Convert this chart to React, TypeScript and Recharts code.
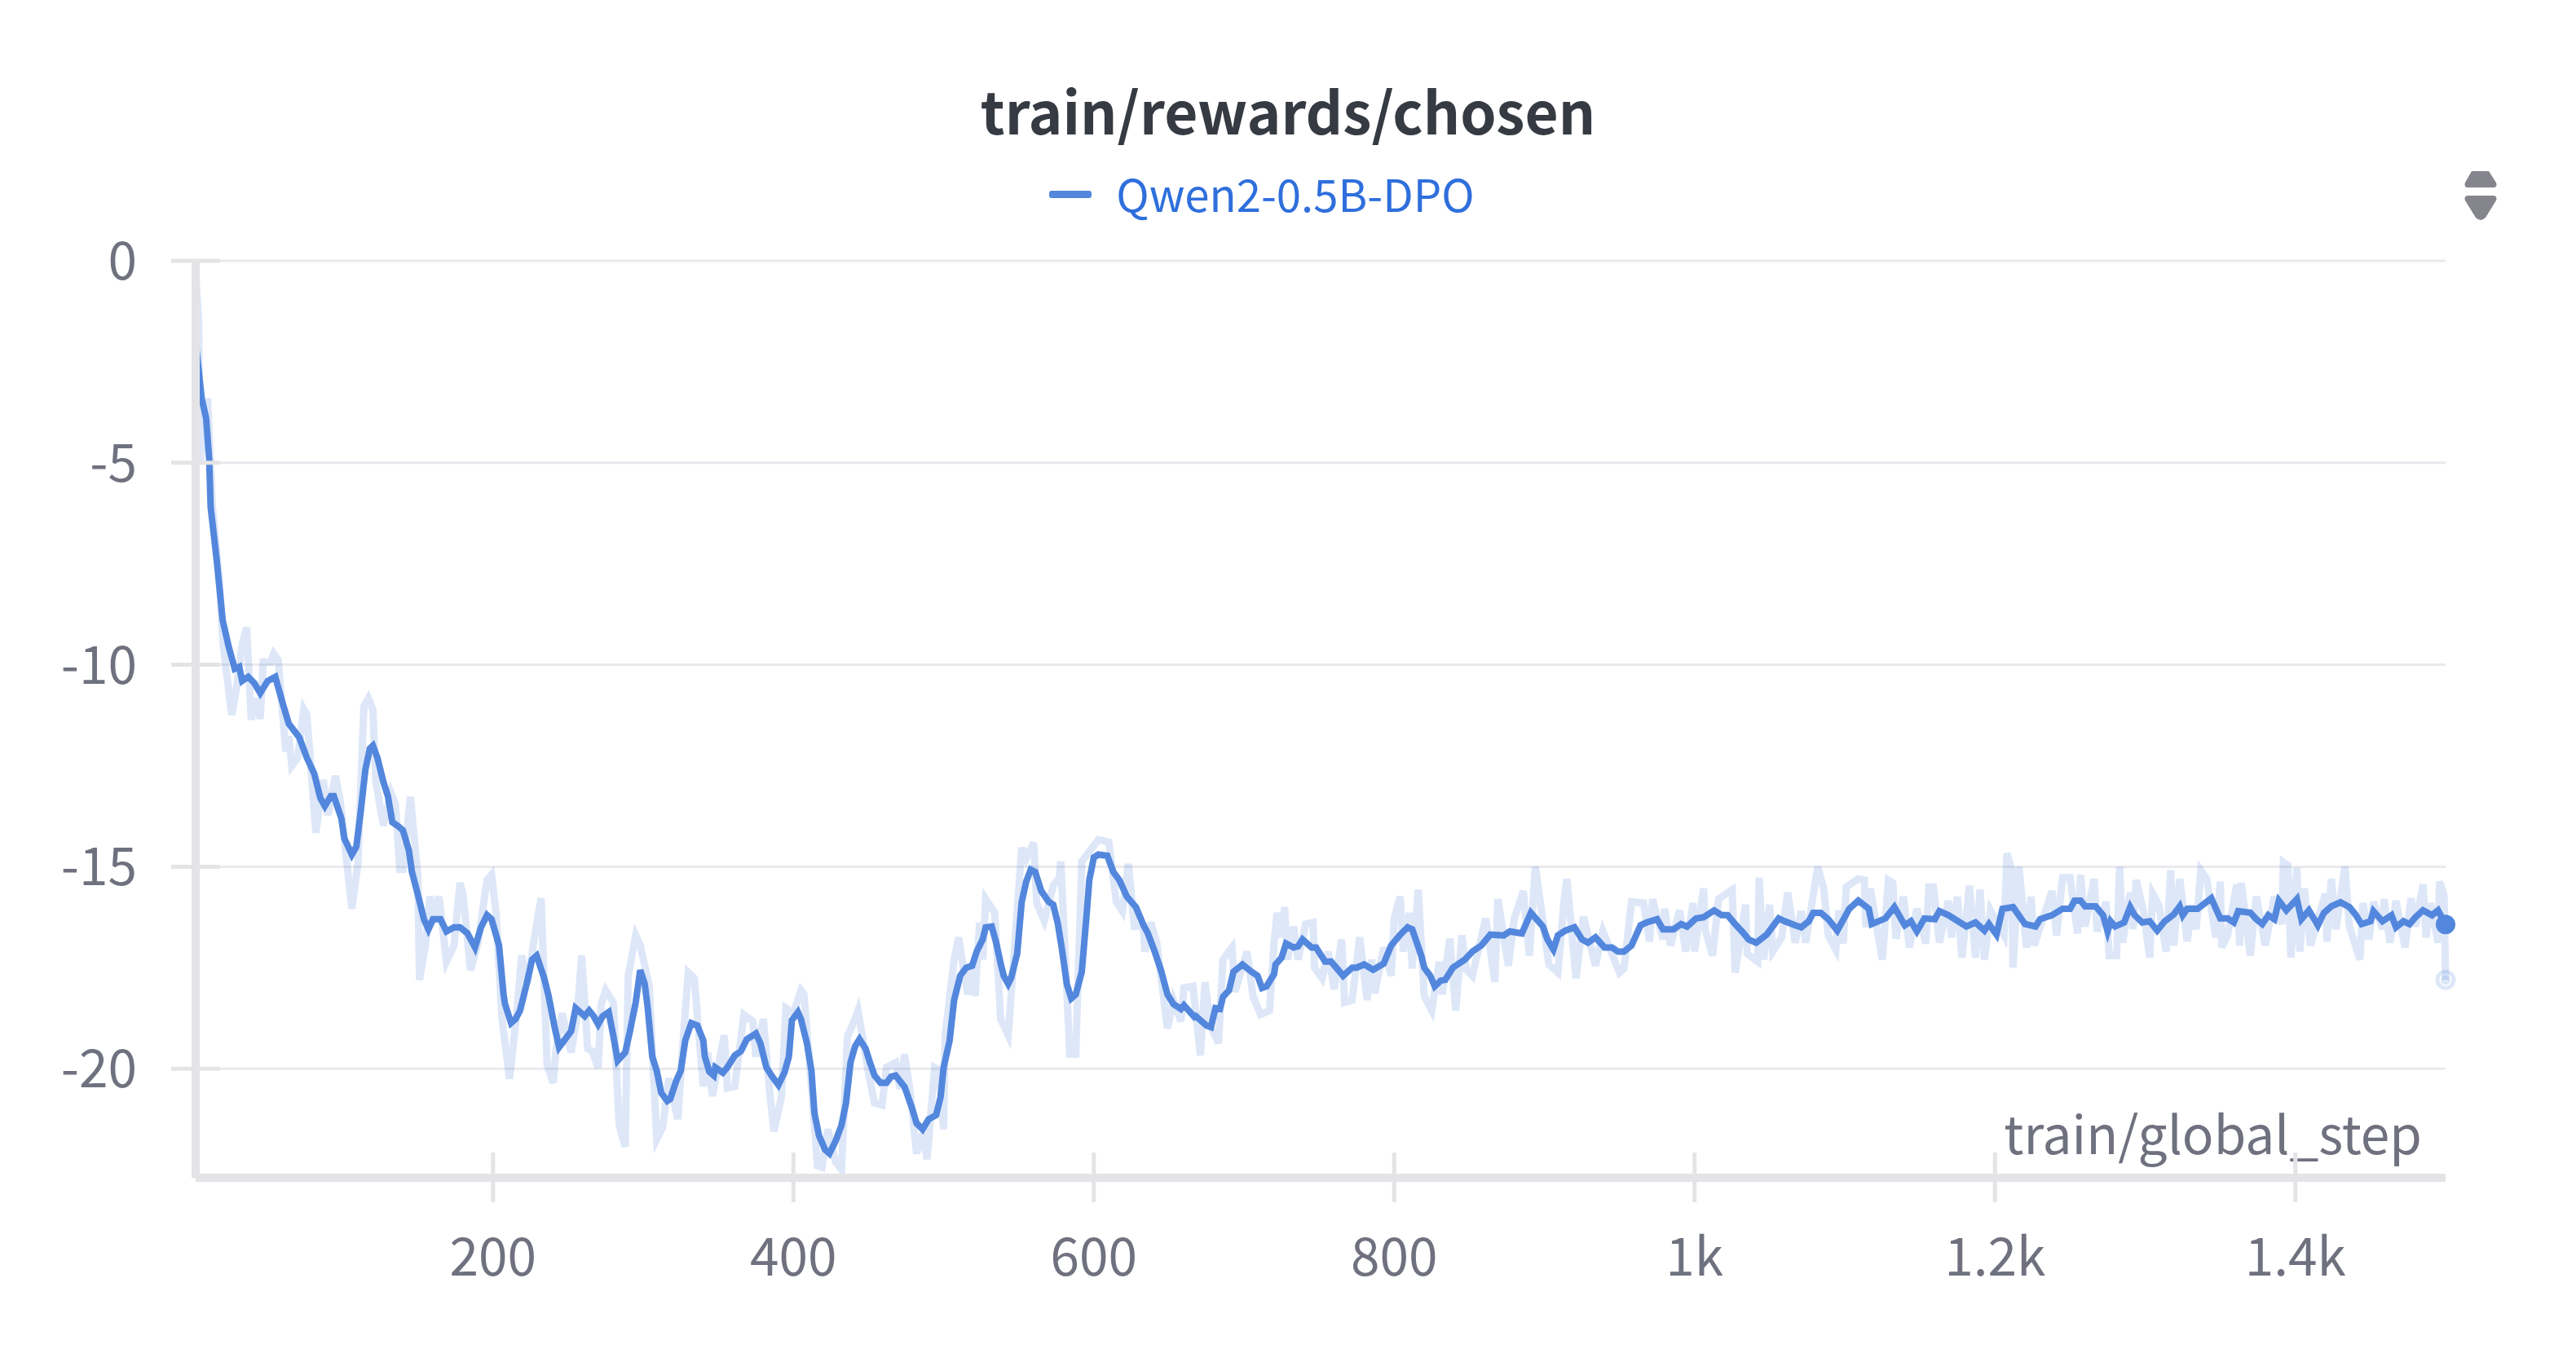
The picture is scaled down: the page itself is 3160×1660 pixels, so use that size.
import React from 'react';
import { LineChart, Line, XAxis, YAxis, CartesianGrid, Legend } from 'recharts';

const TITLE = 'train/rewards/chosen';
const RUN_NAME = 'Qwen2-0.5B-DPO';
const X_NAME = 'train/global_step';

const xTicks = [200, 400, 600, 800, 1000, 1200, 1400];
const xTickLabels = ['200', '400', '600', '800', '1k', '1.2k', '1.4k'];
const yTicks = [0, -5, -10, -15, -20];

const smoothSteps = [
  2, 6, 9, 11, 12, 16, 20, 24, 28, 31, 33, 37, 41, 45, 50, 55, 60, 64, 71, 76, 81, 85, 88, 92, 94, 99, 101, 106, 109, 112,
  115, 118, 120, 123, 127, 130, 133, 137, 140, 144, 146, 150, 154, 157, 160, 165, 169, 174, 178, 183, 188, 192, 196, 199,
  204, 207, 208, 212, 215, 218, 222, 226, 229, 234, 237, 241, 244, 248, 252, 255, 261, 264, 267, 270, 273, 277, 280, 283,
  288, 291, 295, 298, 301, 303, 306, 309, 312, 316, 318, 322, 325, 328, 332, 336, 340, 341, 344, 347, 348, 353, 356, 361,
  365, 369, 375, 378, 382, 386, 390, 394, 397, 399, 403, 405, 409, 412, 414, 417, 421, 424, 428, 432, 435, 438, 441, 444,
  448, 451, 454, 458, 462, 465, 468, 474, 479, 482, 486, 490, 495, 498, 500, 504, 507, 511, 515, 519, 522, 526, 528, 532,
  535, 538, 540, 543, 545, 549, 552, 555, 558, 561, 565, 570, 573, 576, 579, 582, 585, 588, 592, 595, 597, 600, 603, 609,
  613, 617, 622, 628, 633, 636, 641, 645, 649, 653, 658, 660, 667, 668, 675, 678, 681, 684, 686, 690, 693, 699, 705, 709,
  712, 715, 720, 721, 725, 728, 733, 736, 739, 745, 748, 754, 758, 766, 772, 775, 780, 786, 793, 798, 804, 809, 812, 818,
  820, 824, 827, 831, 834, 839, 847, 852, 858, 864, 873, 877, 885, 891, 899, 902, 906, 909, 914, 920, 925, 929, 934, 940,
  945, 949, 953, 958, 964, 968, 975, 979, 986, 991, 995, 1001, 1006, 1013, 1018, 1022, 1027, 1032, 1036, 1041, 1048, 1056,
  1060, 1067, 1071, 1076, 1079, 1084, 1089, 1095, 1103, 1109, 1116, 1118, 1127, 1133, 1140, 1144, 1148, 1153, 1160, 1163,
  1169, 1181, 1187, 1193, 1196, 1201, 1205, 1212, 1220, 1227, 1230, 1238, 1245, 1250, 1253, 1257, 1260, 1267, 1272, 1275,
  1277, 1280, 1286, 1290, 1293, 1298, 1303, 1308, 1313, 1319, 1323, 1325, 1328, 1335, 1344, 1350, 1355, 1359, 1362, 1370,
  1374, 1378, 1382, 1386, 1389, 1394, 1401, 1404, 1409, 1415, 1419, 1424, 1430, 1436, 1440, 1444, 1450, 1452, 1458, 1464,
  1467, 1472, 1476, 1480, 1485, 1491, 1495, 1500,
];
const smoothValues = [
  -2.0, -3.4, -3.9, -4.9, -6.1, -7.4, -8.9, -9.55, -10.1, -10.05, -10.4, -10.3, -10.45, -10.7, -10.4, -10.3, -10.96, -11.46,
  -11.8, -12.3, -12.7, -13.3, -13.5, -13.25, -13.25, -13.8, -14.3, -14.7, -14.5, -13.6, -12.6, -12.07, -12.0, -12.3, -12.9,
  -13.25, -13.9, -14.0, -14.1, -14.6, -15.13, -15.7, -16.3, -16.55, -16.3, -16.3, -16.6, -16.5, -16.5, -16.65, -17.0, -16.5,
  -16.2, -16.3, -16.95, -18.16, -18.4, -18.87, -18.77, -18.56, -17.96, -17.3, -17.2, -17.75, -18.2, -18.97, -19.47, -19.27,
  -19.07, -18.5, -18.7, -18.56, -18.7, -18.9, -18.7, -18.6, -19.17, -19.8, -19.6, -19.1, -18.36, -17.56, -17.9, -18.5, -19.7,
  -20.05, -20.6, -20.8, -20.75, -20.3, -20.05, -19.3, -18.87, -18.93, -19.3, -19.7, -20.07, -20.17, -19.97, -20.1, -19.97,
  -19.67, -19.57, -19.27, -19.13, -19.37, -19.97, -20.2, -20.4, -20.1, -19.7, -18.8, -18.6, -18.77, -19.37, -20.05, -21.1,
  -21.65, -22.0, -22.1, -21.8, -21.4, -20.85, -19.85, -19.45, -19.27, -19.5, -19.85, -20.17, -20.35, -20.35, -20.2, -20.17,
  -20.45, -20.98, -21.35, -21.5, -21.25, -21.15, -20.7, -19.97, -19.3, -18.3, -17.7, -17.5, -17.45, -17.1, -16.8, -16.5,
  -16.48, -16.88, -17.4, -17.7, -17.9, -17.75, -17.15, -15.87, -15.37, -15.07, -15.13, -15.6, -15.87, -15.94, -16.4, -17.1,
  -17.9, -18.26, -18.16, -17.6, -16.28, -15.33, -14.77, -14.7, -14.73, -15.13, -15.33, -15.74, -16.0, -16.44, -16.65, -17.15,
  -17.6, -18.16, -18.4, -18.52, -18.43, -18.72, -18.7, -18.93, -18.97, -18.5, -18.52, -18.22, -18.06, -17.6, -17.42, -17.6,
  -17.7, -18.0, -17.96, -17.66, -17.42, -17.25, -16.9, -17.0, -16.97, -16.8, -17.0, -17.0, -17.35, -17.35, -17.7, -17.5,
  -17.5, -17.42, -17.55, -17.4, -16.95, -16.68, -16.5, -16.55, -17.2, -17.5, -17.7, -17.96, -17.82, -17.8, -17.5, -17.3,
  -17.1, -16.95, -16.68, -16.7, -16.6, -16.65, -16.14, -16.48, -16.8, -17.05, -16.7, -16.58, -16.5, -16.8, -16.88, -16.75,
  -17.0, -17.0, -17.1, -17.1, -16.95, -16.45, -16.38, -16.3, -16.55, -16.55, -16.42, -16.48, -16.28, -16.25, -16.08, -16.2,
  -16.2, -16.42, -16.62, -16.8, -16.88, -16.68, -16.28, -16.35, -16.45, -16.5, -16.35, -16.14, -16.14, -16.3, -16.58, -16.04,
  -15.84, -16.04, -16.42, -16.28, -16.0, -16.45, -16.35, -16.6, -16.28, -16.3, -16.1, -16.2, -16.48, -16.38, -16.58, -16.42,
  -16.68, -16.04, -16.0, -16.42, -16.48, -16.3, -16.2, -16.04, -16.04, -15.84, -15.84, -15.98, -15.98, -16.2, -16.6, -16.35,
  -16.48, -16.38, -16.0, -16.2, -16.38, -16.35, -16.58, -16.35, -16.18, -15.98, -16.2, -16.04, -16.04, -15.78, -16.28, -16.28,
  -16.38, -16.1, -16.14, -16.3, -16.42, -16.2, -16.3, -15.84, -16.08, -15.8, -16.3, -16.08, -16.45, -16.14, -15.98, -15.88,
  -16.0, -16.18, -16.42, -16.35, -16.1, -16.35, -16.2, -16.5, -16.35, -16.42, -16.25, -16.08, -16.2, -16.08, -16.43,
];

const rawSteps = [
  2, 4, 5, 10, 13, 18, 20, 26, 29, 33, 36, 39, 42, 45, 47, 52, 54, 57, 62, 64, 66, 70, 74, 76, 79, 82, 87, 90, 95, 98, 102,
  106, 110, 114, 117, 120, 122, 127, 132, 135, 138, 140, 145, 150, 151, 155, 158, 161, 164, 169, 174, 178, 180, 185, 190,
  196, 199, 202, 206, 211, 216, 219, 223, 227, 232, 236, 240, 242, 246, 252, 256, 259, 263, 266, 270, 272, 275, 280, 284,
  288, 290, 295, 298, 304, 309, 313, 317, 323, 328, 330, 334, 340, 343, 346, 354, 356, 361, 367, 373, 375, 380, 384, 387,
  392, 395, 400, 405, 407, 413, 416, 419, 423, 428, 432, 436, 441, 443, 450, 454, 459, 462, 468, 471, 474, 478, 482, 486,
  489, 494, 497, 500, 501, 507, 510, 516, 518, 521, 524, 526, 528, 534, 538, 543, 547, 552, 555, 560, 562, 567, 573, 577,
  578, 584, 588, 592, 603, 610, 615, 619, 623, 627, 633, 634, 638, 642, 649, 653, 658, 660, 666, 671, 674, 678, 683, 686,
  692, 694, 702, 706, 711, 717, 720, 722, 725, 727, 729, 733, 736, 741, 746, 747, 752, 756, 760, 765, 767, 772, 777, 782,
  785, 787, 793, 798, 800, 804, 806, 810, 812, 816, 820, 825, 830, 832, 837, 841, 845, 848, 852, 861, 867, 869, 876, 880,
  886, 890, 894, 903, 909, 913, 915, 921, 926, 934, 939, 950, 953, 958, 966, 970, 972, 979, 980, 984, 990, 994, 999, 1000,
  1006, 1007, 1012, 1016, 1025, 1027, 1034, 1035, 1042, 1043, 1046, 1050, 1052, 1058, 1062, 1067, 1071, 1074, 1082, 1086,
  1089, 1094, 1096, 1099, 1101, 1109, 1113, 1114, 1117, 1125, 1129, 1132, 1134, 1139, 1143, 1148, 1154, 1156, 1159, 1163,
  1169, 1171, 1175, 1178, 1183, 1187, 1190, 1193, 1197, 1206, 1208, 1211, 1212, 1216, 1221, 1224, 1226, 1238, 1241, 1245,
  1250, 1255, 1257, 1260, 1266, 1268, 1274, 1276, 1281, 1283, 1285, 1290, 1292, 1294, 1299, 1303, 1305, 1309, 1314, 1317,
  1319, 1323, 1328, 1331, 1334, 1337, 1341, 1347, 1350, 1351, 1355, 1361, 1363, 1364, 1370, 1374, 1380, 1386, 1391, 1392,
  1395, 1397, 1401, 1403, 1406, 1410, 1420, 1421, 1424, 1427, 1433, 1436, 1443, 1445, 1449, 1452, 1458, 1459, 1463, 1467,
  1473, 1477, 1480, 1485, 1487, 1490, 1495, 1496, 1499, 1500,
];
const rawValues = [
  -0.3, -1.5, -5.0, -3.4, -6.0, -8.0, -9.4, -11.24, -10.63, -9.48, -9.08, -11.36, -10.83, -11.34, -9.93, -9.93, -9.73, -9.89,
  -12.15, -11.77, -12.5, -12.3, -11.1, -11.23, -12.66, -14.16, -12.85, -13.72, -12.75, -13.3, -14.66, -16.04, -14.93, -11.03,
  -10.83, -11.1, -12.9, -13.98, -13.17, -13.45, -15.07, -15.07, -13.27, -15.27, -17.8, -16.95, -15.74, -16.14, -15.74, -17.35,
  -16.95, -15.4, -15.67, -17.56, -16.88, -15.33, -15.2, -16.14, -18.77, -20.25, -18.56, -17.2, -17.9, -16.88, -15.78, -19.9,
  -20.35, -19.5, -18.63, -19.6, -18.7, -17.2, -19.5, -19.57, -19.97, -18.4, -18.06, -18.36, -21.4, -21.93, -17.7, -16.7,
  -16.95, -17.96, -21.75, -21.45, -20.24, -21.25, -18.56, -17.62, -17.76, -20.44, -19.6, -20.68, -19.17, -20.48, -20.44,
  -18.66, -18.83, -19.7, -18.77, -20.5, -21.55, -20.7, -18.5, -18.63, -18.06, -18.16, -20.9, -22.4, -22.44, -21.5, -22.3,
  -22.5, -19.2, -18.77, -18.56, -20.1, -20.85, -20.9, -19.97, -19.85, -20.5, -19.64, -20.65, -22.1, -21.6, -22.24, -19.97,
  -20.03, -21.5, -19.2, -17.3, -16.75, -18.16, -17.42, -18.2, -16.38, -17.3, -15.8, -16.14, -18.77, -19.17, -17.1, -14.53,
  -14.8, -14.4, -15.9, -16.34, -15.47, -15.27, -14.87, -19.64, -19.64, -14.87, -14.33, -14.39, -15.87, -16.1, -14.93, -16.48,
  -16.48, -17.1, -16.38, -16.9, -19.0, -18.3, -18.83, -18.0, -17.96, -19.67, -17.86, -18.97, -19.37, -17.3, -17.0, -18.1,
  -17.1, -18.2, -18.66, -18.56, -16.88, -16.14, -16.75, -16.0, -17.3, -16.48, -17.3, -16.42, -16.38, -17.5, -17.76, -17.1,
  -18.03, -16.8, -18.36, -18.3, -16.75, -18.3, -17.3, -18.13, -17.0, -17.7, -16.28, -15.74, -17.1, -16.14, -17.52, -15.57,
  -18.2, -18.56, -17.35, -18.16, -16.78, -18.56, -16.7, -17.55, -17.7, -16.28, -17.85, -15.8, -17.45, -16.28, -15.6, -17.2,
  -15.0, -17.42, -17.62, -15.87, -15.3, -17.76, -16.24, -17.45, -16.6, -17.62, -17.52, -15.87, -15.9, -16.85, -15.8, -16.8,
  -16.04, -16.95, -16.08, -17.1, -15.9, -17.1, -15.54, -16.55, -17.2, -15.8, -15.57, -17.62, -15.94, -17.15, -17.35, -15.27,
  -17.3, -15.94, -17.1, -16.75, -15.64, -16.88, -16.1, -16.88, -15.0, -15.54, -16.7, -17.05, -16.08, -16.9, -15.5, -15.3,
  -15.33, -16.5, -15.54, -17.3, -15.33, -15.4, -16.78, -15.74, -17.0, -16.04, -16.9, -15.5, -15.5, -16.88, -15.84, -16.75,
  -15.74, -17.25, -15.47, -17.25, -15.57, -17.3, -16.08, -16.7, -14.67, -15.07, -17.5, -15.0, -17.0, -15.74, -16.95, -15.6,
  -16.7, -15.27, -15.27, -16.65, -15.2, -16.48, -15.3, -16.6, -15.87, -17.2, -17.2, -15.0, -16.88, -15.64, -16.55, -15.33,
  -16.14, -17.25, -15.67, -15.94, -17.1, -15.09, -16.95, -15.3, -16.85, -15.94, -16.55, -15.09, -15.3, -16.75, -15.37, -17.0,
  -16.68, -15.44, -16.95, -15.4, -17.2, -15.74, -16.95, -15.74, -16.42, -14.89, -14.97, -17.25, -15.03, -17.1, -15.54, -16.95,
  -15.67, -16.85, -15.3, -16.55, -15.0, -16.48, -17.3, -15.9, -16.8, -15.87, -16.55, -15.8, -16.88, -15.84, -17.0, -15.78,
  -16.48, -15.44, -16.75, -15.9, -16.88, -15.37, -15.7, -17.8,
];

const smoothData = smoothSteps.map((step, i) => ({ step, value: smoothValues[i] }));
const rawData = rawSteps.map((step, i) => ({ step, value: rawValues[i] }));

const BLUE = '#5387dd';
const AXIS = '#e4e4e7';
const GRID = '#e9e9ee';
const LABEL = '#6f717f';
const FONT = '"Noto Sans CJK SC", "Noto Sans", sans-serif';

const XTick = ({ x, y, payload }: any) => (
  <g>
    <line x1={x} x2={x} y1={y - 31} y2={y + 30} stroke={AXIS} strokeWidth={5} />
    <text x={x} y={y + 120} textAnchor="middle" fontSize={64} fontFamily={FONT} fill={LABEL}>
      {xTickLabels[xTicks.indexOf(payload.value)]}
    </text>
  </g>
);

const YTick = ({ x, y, payload }: any) => (
  <g>
    <line x1={x - 30} x2={x + 30} y1={y} y2={y} stroke={AXIS} strokeWidth={5} />
    <text x={x - 72} y={y + 23} textAnchor="end" fontSize={64} fontFamily={FONT} fill={LABEL}>
      {payload.value}
    </text>
  </g>
);

const lastDot = (render: (cx: number, cy: number) => React.ReactElement, lastIndex: number) => (props: any) =>
  props.index === lastIndex ? <g key="end">{render(props.cx, props.cy)}</g> : <g key={props.index} />;

const LegendRow = () => (
  <div style={{ display: 'flex', alignItems: 'center', justifyContent: 'center', height: 60, fontFamily: FONT, paddingRight: 64 }}>
    <span style={{ width: 52, height: 9, borderRadius: 3, background: BLUE, marginRight: 30 }} />
    <span style={{ fontSize: 54.5, color: '#2f6fdc', lineHeight: '60px', marginTop: -3 }}>{RUN_NAME}</span>
  </div>
);

export default function App() {
  return (
    <div style={{ position: 'absolute', left: 0, top: 0, width: 3160, height: 1660, background: '#fff' }}>
      <LineChart
        width={3160}
        height={1660}
        data={smoothData}
        margin={{ top: 320, right: 160, bottom: 115, left: 110 }}
      >
        <CartesianGrid horizontal vertical={false} stroke={GRID} strokeWidth={3} />
        <Line
          data={rawData}
          dataKey="value"
          type="linear"
          stroke={BLUE}
          strokeOpacity={0.2}
          strokeWidth={9}
          isAnimationActive={false}
          activeDot={false}
          dot={lastDot(
            (cx, cy) => (
              <>
                <circle cx={cx} cy={cy} r={10} fill="none" stroke={BLUE} strokeOpacity={0.2} strokeWidth={5} />
                <circle cx={cx} cy={cy} r={6} fill={BLUE} fillOpacity={0.2} />
              </>
            ),
            rawData.length - 1
          )}
          legendType="none"
        />
        <Line
          data={smoothData}
          dataKey="value"
          name={RUN_NAME}
          type="linear"
          stroke={BLUE}
          strokeWidth={8}
          isAnimationActive={false}
          activeDot={false}
          dot={lastDot((cx, cy) => <circle cx={cx} cy={cy} r={12} fill={BLUE} />, smoothData.length - 1)}
        />
        <XAxis
          dataKey="step"
          type="number"
          domain={[2, 1500]}
          ticks={xTicks}
          interval={0}
          height={100}
          stroke={AXIS}
          strokeWidth={10}
          tickLine={false}
          tickSize={0}
          tickMargin={0}
          tick={<XTick />}
        />
        <YAxis
          type="number"
          domain={[-22.7, 0]}
          ticks={yTicks}
          interval={0}
          width={130}
          stroke={AXIS}
          strokeWidth={10}
          tickLine={false}
          tickSize={0}
          tickMargin={0}
          tick={<YTick />}
        />
        <Legend
          layout="horizontal"
          verticalAlign="middle"
          align="center"
          wrapperStyle={{ top: 208, left: 0, width: 3160 }}
          content={<LegendRow />}
        />
        <text x={1580} y={165} textAnchor="middle" fontSize={71} fontWeight={700} fontFamily={FONT} fill="#363a42">
          {TITLE}
        </text>
        <text x={2971} y={1416} textAnchor="end" fontSize={64} fontFamily={FONT} fill={LABEL}>
          {X_NAME}
        </text>
        <path d="M3032 210 H3053 L3062 224 Q3064 230 3058 230 H3028 Q3022 230 3024 224 Z" fill="#85858e" />
        <path d="M3028 240 H3058 Q3064 240 3062 246 L3049 267 Q3043 273 3037 267 L3024 246 Q3022 240 3028 240 Z" fill="#85858e" />
      </LineChart>
    </div>
  );
}
